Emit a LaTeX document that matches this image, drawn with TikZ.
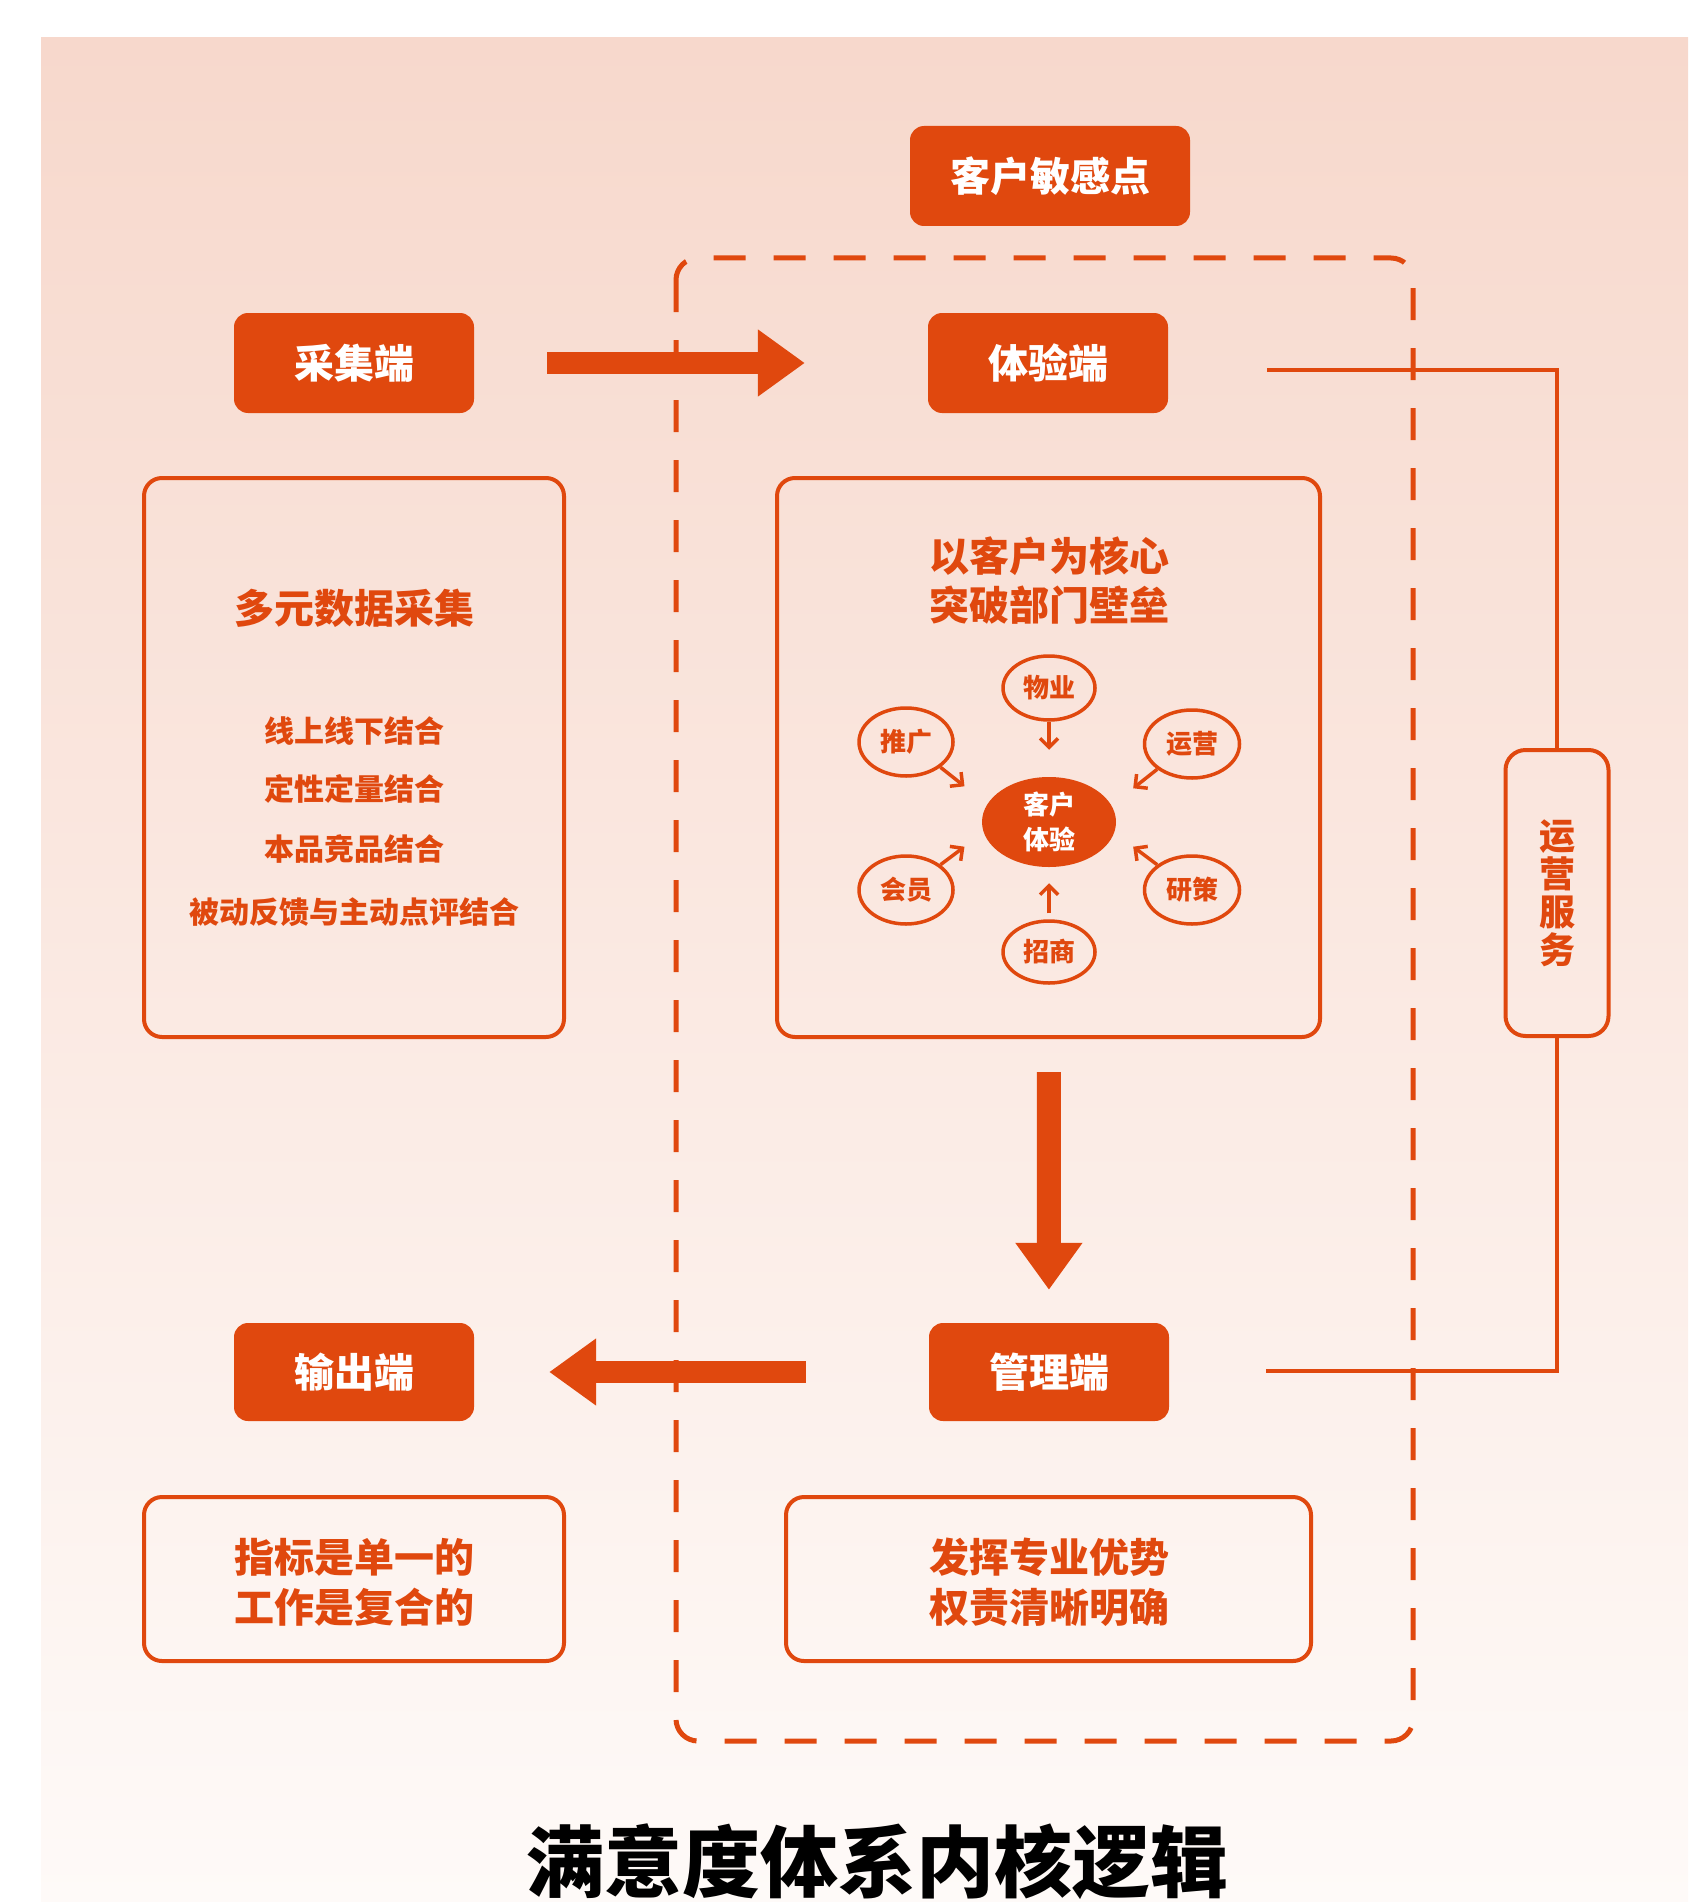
\documentclass[tikz,border=0pt]{standalone}
\usepackage{fontspec}
\newfontfamily\cjk{Noto Sans CJK SC}
\usetikzlibrary{shapes.geometric,arrows.meta}
\definecolor{org}{HTML}{E0480E}
\definecolor{bgtop}{HTML}{F7D8CC}
\definecolor{bgbot}{HTML}{FEFAF8}
\tikzset{
 fillbox/.style={draw=none, fill=org, rounded corners=14pt, text=white, font=\cjk\bfseries\fontsize{40}{48}\selectfont, inner sep=0pt},
 linebox/.style={draw=org, line width=4pt, rounded corners=18pt, inner sep=0pt},
 otext/.style={text=org, font=\cjk\bfseries\fontsize{40}{49}\selectfont, align=center, inner sep=0pt},
 stext/.style={text=org, font=\cjk\bfseries\fontsize{30}{36}\selectfont, align=center, inner sep=0pt},
 bigarr/.style={draw=org, line width=22pt, -{Triangle[length=47pt,width=64pt]}},
 ell/.style={ellipse, draw=org, line width=3.5pt, inner sep=0pt, text=org, font=\cjk\bfseries\fontsize{26}{30}\selectfont},
 thinarr/.style={draw=org, line width=3.5pt, -{Straight Barb[length=9pt,width=18pt]}},
 conn/.style={draw=org, line width=4pt},
 dashbox/.style={draw=org, line width=5pt, dash pattern=on 32pt off 28pt, rounded corners=22pt},
}
\begin{document}
\begin{tikzpicture}[x=1pt,y=-1pt]
\useasboundingbox (0,0) rectangle (1688,1902);
\fill[white] (0,0) rectangle (1688,1902);
\shade[top color=bgtop, bottom color=bgbot] (41,38) rectangle (1688,1902);

% dashed frame
\draw[dashbox] (676,258) rectangle (1413,1741);

% filled header boxes
\node[fillbox, minimum width=280pt, minimum height=100pt] (kh) at (1050,176) {客户敏感点};
\node[fillbox, minimum width=240pt, minimum height=100pt] (cj) at (354,363) {采集端};
\node[fillbox, minimum width=240pt, minimum height=100pt] (ty) at (1048,363) {体验端};
\node[fillbox, minimum width=240pt, minimum height=98pt] (sc) at (354,1372) {输出端};
\node[fillbox, minimum width=240pt, minimum height=98pt] (gl) at (1049,1372) {管理端};

% outlined boxes
\node[linebox, minimum width=420pt, minimum height=559pt] (dy) at (354,757.5) {};
\node[linebox, minimum width=543pt, minimum height=559pt] (ex) at (1048.5,757.5) {};
\node[linebox, minimum width=420pt, minimum height=164pt] (zb) at (354,1579) {};
\node[linebox, minimum width=525pt, minimum height=164pt] (fh) at (1048.5,1579) {};
\node[linebox, rounded corners=20pt, minimum width=103pt, minimum height=286pt, text=org, font=\cjk\bfseries\fontsize{36}{38}\selectfont, align=center] (yy) at (1557,893) {运\\营\\服\\务};

% texts in left box
\node[otext] (t1) at (354,608) {多元数据采集};
\node[stext] (l1) at (354,731) {线上线下结合};
\node[stext] (l2) at (354,789) {定性定量结合};
\node[stext] (l3) at (354,849) {本品竞品结合};
\node[stext] (l4) at (354,912) {被动反馈与主动点评结合};

% texts in centre box
\node[otext] (t2) at (1049,581) {以客户为核心\\突破部门壁垒};
\node[ellipse, fill=org, inner sep=0pt, minimum width=134pt, minimum height=90pt, text=white, font=\cjk\bfseries\fontsize{26}{35}\selectfont, align=center] (kt) at (1049,822) {客户\\体验};
\node[ell, minimum width=92pt, minimum height=64pt] (wy) at (1049,688) {物业};
\node[ell, minimum width=94pt, minimum height=68pt] (tg) at (906,742) {推广};
\node[ell, minimum width=95pt, minimum height=68pt] (ry) at (1192,744) {运营};
\node[ell, minimum width=94pt, minimum height=68pt] (hy) at (906,890) {会员};
\node[ell, minimum width=95pt, minimum height=68pt] (yc) at (1192,890) {研策};
\node[ell, minimum width=92pt, minimum height=62pt] (zs) at (1049,952) {招商};

\draw[thinarr] (wy.south) -- ++(0,28);
\draw[thinarr] (zs.north) ++(0,-6) -- ++(0,-30);
\draw[thinarr] (tg.south east) -- ++(24,19);
\draw[thinarr] (ry.south west) -- ++(-24,19);
\draw[thinarr] (hy.north east) -- ++(24,-18);
\draw[thinarr] (yc.north west) -- ++(-24,-18);

% bottom texts
\node[otext, font=\cjk\bfseries\fontsize{40}{50}\selectfont] (t3) at (354,1582) {指标是单一的\\工作是复合的};
\node[otext, font=\cjk\bfseries\fontsize{40}{50}\selectfont] (t4) at (1049,1582) {发挥专业优势\\权责清晰明确};

% big arrows
\draw[bigarr, shorten <=73pt, shorten >=123pt] (cj) -- (ty);
\draw[bigarr, line width=24pt, shorten <=33pt, shorten >=33pt] (ex) -- (gl);
\draw[bigarr, shorten <=123pt, shorten >=75pt] (gl) -- (sc);

% right-hand connector
\coordinate (r1) at (1267,370);
\coordinate (r2) at (1266,1371);
\draw[conn] (r1) -| (yy.north);
\draw[conn] (yy.south) |- (r2);

% title
\node[font=\cjk\bfseries\fontsize{78}{80}\selectfont, text=black, inner sep=0pt] (title) at (877,1862) {满意度体系内核逻辑};
\end{tikzpicture}
\end{document}
